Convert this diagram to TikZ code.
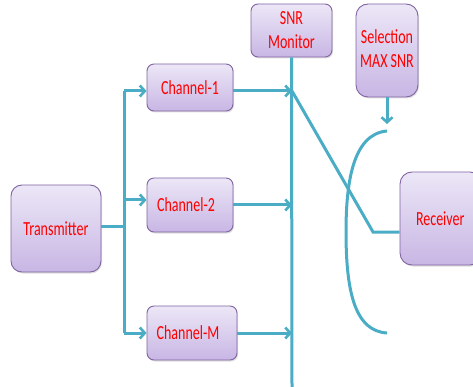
\documentclass[tikz,border=0pt]{standalone}
\usepackage{fontspec}
\newfontfamily\boxfont[FakeStretch=0.7]{Carlito}
\usetikzlibrary{arrows.meta,shadows}
\definecolor{teal1}{RGB}{75,172,198}
\definecolor{boxtop}{RGB}{236,231,247}
\definecolor{boxbot}{RGB}{200,182,228}
\definecolor{boxline}{RGB}{128,100,162}
\definecolor{txtred}{RGB}{255,0,0}
\tikzset{
  blk/.style={draw=boxline, line width=0.9pt, top color=boxtop, bottom color=boxbot,
    rounded corners=7pt, font=\boxfont\fontsize{20}{24}\selectfont, text=txtred,
    align=center, inner sep=0pt,
    drop shadow={shadow xshift=1pt, shadow yshift=-1.5pt, opacity=0.25}},
  conn/.style={draw=teal1, line width=3pt},
  arr/.style={conn, -{Straight Barb[length=5pt,width=11pt,line width=2.6pt]}},
}
\begin{document}
\begin{tikzpicture}[x=1pt,y=-1pt]
\useasboundingbox (0,0) rectangle (473,387);
\clip (0,0) rectangle (473,387);
% boxes
\node[blk, rounded corners=11pt, minimum width=90pt, minimum height=87pt] (tx) at (56,228.5) {Transmitter};
\node[blk, minimum width=86pt, minimum height=47pt] (c1) at (190,87.5) {\raisebox{-3pt}{Channel-1}};
\node[blk, minimum width=86pt, minimum height=54pt] (c2) at (190,205) {\hspace*{-8pt}Channel-2};
\node[blk, minimum width=90pt, minimum height=54pt] (cm) at (192,333) {\hspace*{-8pt}Channel-M};
\node[blk, minimum width=81pt, minimum height=53pt] (snr) at (291.5,30.5) {SNR\\Monitor};
\node[blk, rounded corners=12pt, minimum width=62pt, minimum height=93pt] (sel) at (387,50.5) {\raisebox{4pt}{\begin{tabular}{@{}c@{}}Selection\\MAX SNR\end{tabular}}};
\node[blk, rounded corners=12pt, minimum width=82pt, minimum height=93pt, text width=78pt, align=left] (rx) at (441,218.5) {\hspace*{14pt}Receiver};
% coordinates
\coordinate (split) at (124,226);
\coordinate (b1) at (124,91);
\coordinate (b2) at (124,200);
\coordinate (bm) at (124,333);
\coordinate (m1) at (292,91);
\coordinate (m2) at (292,205);
\coordinate (mm) at (292,333);
\coordinate (mbot) at (292,387);
\coordinate (knee) at (373,232);
\coordinate (selend) at (387,124);
\coordinate (arcT) at (387,131);
\coordinate (arcM) at (346,232);
\coordinate (arcB) at (387,333);
% connectors
\draw[conn] (tx.east |- split) -- (split);
\draw[conn] (b1) -- (bm);
\draw[arr] (b1) -- (c1.west |- b1);
\draw[arr] (b2) -- (c2.west |- b2);
\draw[arr] (bm) -- (cm.west |- bm);
\draw[arr] (c1.east |- m1) -- (m1);
\draw[arr] (c2.east |- m2) -- (m2);
\draw[arr] (cm.east |- mm) -- (mm);
\draw[conn] (snr.south) -- (mbot);
\draw[conn] (m1) -- (knee) -- (rx.west |- knee);
\draw[arr] (sel.south) -- (selend);
\draw[conn] (arcT) .. controls (352,134) and (346,185) .. (arcM) .. controls (346,295) and (356,331) .. (arcB);
\end{tikzpicture}
\end{document}
